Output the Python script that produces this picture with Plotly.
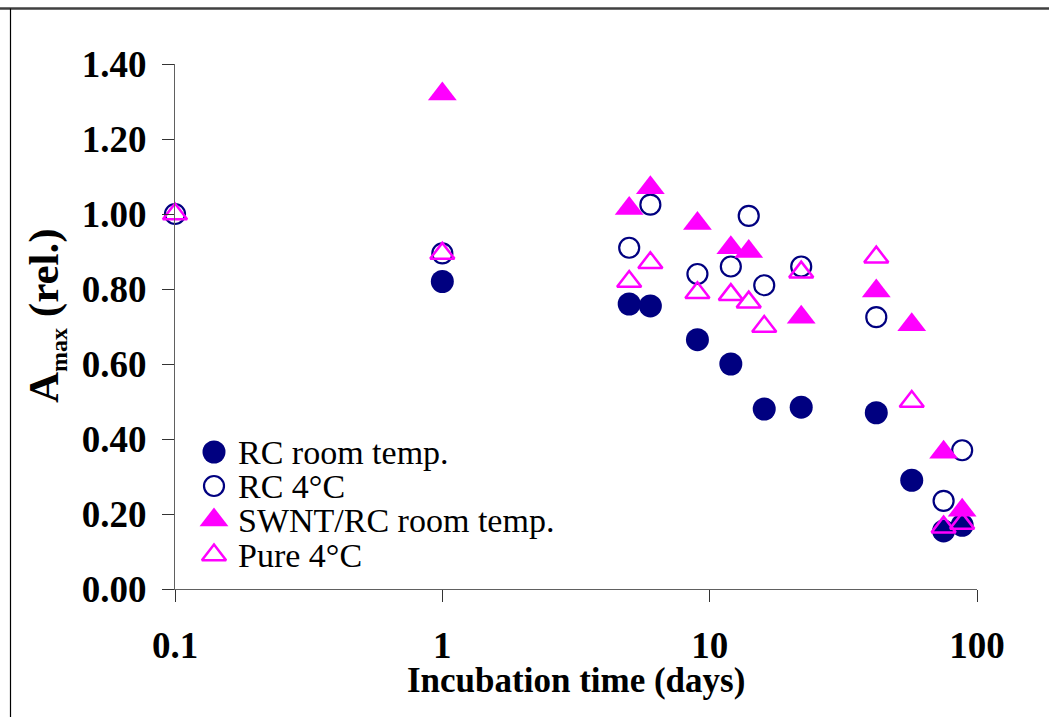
import plotly.graph_objects as go

# ---------------- data ----------------
rc_rt_days = [1, 5, 6, 9, 12, 16, 22, 42, 57, 75, 88]
rc_rt_amax = [0.82, 0.76, 0.755, 0.665, 0.60, 0.48, 0.485, 0.47, 0.29, 0.155, 0.17]

rc_4c_days = [0.1, 1, 5, 6, 9, 12, 14, 16, 22, 42, 75, 88]
rc_4c_amax = [1.00, 0.895, 0.91, 1.025, 0.84, 0.86, 0.995, 0.81, 0.86, 0.725, 0.235, 0.37]

swnt_rt_days = [1, 5, 6, 9, 12, 14, 22, 42, 57, 75, 88]
swnt_rt_amax = [1.32, 1.015, 1.07, 0.975, 0.91, 0.90, 0.725, 0.795, 0.705, 0.365, 0.21]

pure_4c_days = [0.1, 1, 5, 6, 9, 12, 14, 16, 22, 42, 57, 75, 88]
pure_4c_amax = [1.00, 0.895, 0.82, 0.87, 0.79, 0.785, 0.765, 0.70, 0.845, 0.885, 0.50, 0.165, 0.175]

series_names = ["RC room temp.", "RC 4°C", "SWNT/RC room temp.", "Pure 4°C"]
x_tickvals = [0.1, 1, 10, 100]
x_ticktext = ["0.1", "1", "10", "100"]
y_tickvals = [0.0, 0.2, 0.4, 0.6, 0.8, 1.0, 1.2, 1.4]

x_title = "Incubation time (days)"
y_title = 'A<sub><span style="font-size:24px">max</span></sub> (rel.)'

# ---------------- styles ----------------
NAVY = "#000080"
MAG = "#FF00FF"
FONT = "Liberation Serif, Times New Roman, serif"

W, H = 1049, 717
L, R, T, B = 175, 72, 64, 128   # plot area: x 175..977, y 64..589

styles = [
    dict(symbol="circle", size=23, color=NAVY, line=dict(width=0)),
    dict(symbol="circle-open", size=20, color=NAVY, line=dict(width=2.2, color=NAVY)),
    dict(symbol="triangle-up", size=25, color=MAG, line=dict(width=0)),
    dict(symbol="triangle-up-open", size=21, color=MAG, line=dict(width=2.5, color=MAG)),
]


def px_x(p):
    return (p - L) / (W - L - R)


def px_y(p):
    return (H - B - p) / (H - T - B)


fig = go.Figure()
all_x = [rc_rt_days, rc_4c_days, swnt_rt_days, pure_4c_days]
all_y = [rc_rt_amax, rc_4c_amax, swnt_rt_amax, pure_4c_amax]
for name, xs, ys, st in zip(series_names, all_x, all_y, styles):
    fig.add_trace(go.Scatter(x=xs, y=ys, mode="markers", name=name,
                             marker=st, showlegend=False, cliponaxis=False))

# legend (drawn inside the plot, lower left) on a pixel-like overlay axis
leg_x_marker = 214
leg_x_text = 236
leg_rows = [452, 486, 520, 555]
for name, st, ry in zip(series_names, styles, leg_rows):
    fig.add_trace(go.Scatter(x=[leg_x_marker], y=[ry], mode="markers", marker=st,
                             xaxis="x2", yaxis="y2", showlegend=False,
                             hoverinfo="skip", cliponaxis=False))
    fig.add_annotation(x=leg_x_text, y=ry, xref="x2", yref="y2", text=name,
                       showarrow=False, xanchor="left", yanchor="middle",
                       font=dict(family=FONT, size=34, color="black"))

# axis titles
fig.add_annotation(x=px_x(576), y=px_y(680), xref="paper", yref="paper", text=x_title,
                   showarrow=False, xanchor="center", yanchor="middle",
                   font=dict(family=FONT, size=35, color="black", weight="bold"))
fig.add_annotation(x=px_x(46), y=px_y(316), xref="paper", yref="paper", text=y_title,
                   showarrow=False, textangle=-90, xanchor="center", yanchor="middle",
                   font=dict(family=FONT, size=43, color="black", weight="bold"))

# outer frame lines (top and left)
fig.add_shape(type="line", xref="paper", yref="paper", x0=px_x(0), x1=px_x(W),
              y0=px_y(8.5), y1=px_y(8.5), line=dict(color="#404040", width=2.5))
fig.add_shape(type="line", xref="paper", yref="paper", x0=px_x(10.5), x1=px_x(10.5),
              y0=px_y(8.5), y1=px_y(H), line=dict(color="black", width=1.2))

tickfont = dict(family=FONT, size=37, color="black", weight="bold")
fig.update_layout(
    width=W, height=H,
    margin=dict(l=L, r=R, t=T, b=B, pad=0),
    paper_bgcolor="white", plot_bgcolor="white",
    showlegend=False,
    xaxis=dict(type="log", range=[-1, 2], tickvals=x_tickvals, ticktext=x_ticktext,
               showgrid=False, zeroline=False, showline=True, linecolor="#606060",
               linewidth=1.3, ticks="outside", ticklen=12, tickwidth=1.2,
               tickcolor="#333333", tickfont=tickfont, ticklabelstandoff=11),
    yaxis=dict(range=[0, 1.4], tickvals=y_tickvals, tickformat=".2f",
               showgrid=False, zeroline=False, showline=True, linecolor="#606060",
               linewidth=1.3, ticks="outside", ticklen=12, tickwidth=1.2,
               tickcolor="#333333", tickfont=tickfont, ticklabelstandoff=8),
    xaxis2=dict(overlaying="x", range=[L, W - R], visible=False, fixedrange=True),
    yaxis2=dict(overlaying="y", range=[H - B, T], visible=False, fixedrange=True),
)

fig.write_html("out.html", config={"displayModeBar": False},
               post_script="document.body.style.margin='0px';document.body.style.overflow='hidden';")
